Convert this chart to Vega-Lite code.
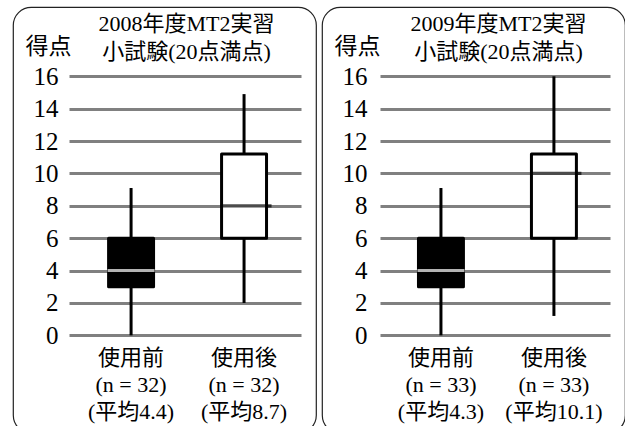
{
  "$schema": "https://vega.github.io/schema/vega-lite/v6.json",
  "padding": {"left": 12, "top": 6, "right": 0, "bottom": 0},
  "spacing": 4,
  "config": {
    "font": "Liberation Serif, Noto Sans CJK JP",
    "view": {"stroke": "#222222", "strokeWidth": 1.2, "cornerRadius": 18, "fill": "white"},
    "title": {"fontSize": 22, "fontWeight": "normal", "color": "black", "lineHeight": 28, "font": "Liberation Serif, Noto Sans CJK JP"},
    "axis": {"labelFont": "Liberation Serif, Noto Sans CJK JP", "titleFont": "Liberation Serif, Noto Sans CJK JP"}
  },
  "datasets": {
    "p2008": [
      {"group": "使用前", "label": "使用前|(n = 32)|(平均4.4)", "lower": 0, "q1": 3, "median": 4, "q3": 6, "upper": 9.1},
      {"group": "使用後", "label": "使用後|(n = 32)|(平均8.7)", "lower": 2, "q1": 6, "median": 8, "q3": 11.2, "upper": 14.9}
    ],
    "p2009": [
      {"group": "使用前", "label": "使用前|(n = 33)|(平均4.3)", "lower": 0, "q1": 3, "median": 4, "q3": 6, "upper": 9.1},
      {"group": "使用後", "label": "使用後|(n = 33)|(平均10.1)", "lower": 1.2, "q1": 6, "median": 10, "q3": 11.2, "upper": 16}
    ]
  },
  "hconcat": [
    {
      "width": 303,
      "height": 426,
      "data": {"name": "p2008"},
      "title": {"text": ["2008年度MT2実習", "小試験(20点満点)"], "frame": "group", "anchor": "middle", "dx": 22, "dy": 67, "offset": 0, "baseline": "middle"},
      "encoding": {
        "x": {"field": "label", "type": "nominal", "sort": null,
          "scale": {"paddingInner": 0.602, "paddingOuter": 0.642, "align": 0.659},
          "axis": {"orient": "bottom", "offset": -97.7, "domain": false, "ticks": false, "grid": false, "labelAngle": 0, "labelExpr": "split(datum.label, '|')", "labelFont": "Liberation Serif, Noto Sans CJK JP", "labelFontSize": 22, "labelLineHeight": 27, "labelPadding": 12, "labelBaseline": "top", "labelColor": "black", "title": null}}
      },
      "layer": [
        {"mark": {"type": "rule", "strokeWidth": 3, "color": "black"},
         "encoding": {
           "y": {"field": "lower", "type": "quantitative", "scale": {"domain": [-6.03, 20.28], "nice": false, "zero": false},
             "axis": {"title": "得点", "values": [0, 2, 4, 6, 8, 10, 12, 14, 16], "domain": false, "ticks": false, "grid": true, "gridColor": "#808080", "gridWidth": 3, "gridDash": [0, 56, 232, 100], "labelPadding": -45, "labelFont": "Liberation Serif, serif", "labelFontSize": 25, "labelColor": "black", "titleX": 35, "titleY": 39, "titleAngle": 0, "titleAlign": "center", "titleBaseline": "middle", "titleFont": "Noto Sans CJK JP", "titleFontSize": 23, "titleFontWeight": "normal", "titleColor": "black"}},
           "y2": {"field": "upper"}}},
        {"mark": {"type": "bar", "stroke": "black", "strokeWidth": 3, "strokeJoin": "round"},
         "encoding": {
           "y": {"field": "q1", "type": "quantitative", "scale": {"domain": [-6.03, 20.28], "nice": false, "zero": false},
             "axis": {"title": "得点", "values": [0, 2, 4, 6, 8, 10, 12, 14, 16], "domain": false, "ticks": false, "grid": true, "gridColor": "#808080", "gridWidth": 3, "gridDash": [0, 56, 232, 100], "labelPadding": -45, "labelFont": "Liberation Serif, serif", "labelFontSize": 25, "labelColor": "black", "titleX": 35, "titleY": 39, "titleAngle": 0, "titleAlign": "center", "titleBaseline": "middle", "titleFont": "Noto Sans CJK JP", "titleFontSize": 23, "titleFontWeight": "normal", "titleColor": "black"}},
           "y2": {"field": "q3"},
           "fill": {"field": "group", "type": "nominal", "scale": {"domain": ["使用前", "使用後"], "range": ["black", "white"]}, "legend": null}}},
        {"transform": [{"filter": "datum.group == '使用前'"}],
         "mark": {"type": "tick", "color": "white", "thickness": 3, "size": 47},
         "encoding": {"y": {"field": "median", "type": "quantitative"}}},
        {"transform": [{"filter": "datum.group == '使用後'"}],
         "mark": {"type": "tick", "color": "black", "thickness": 3.2, "size": 51, "xOffset": 2},
         "encoding": {"y": {"field": "median", "type": "quantitative"}}}
      ]
    },
    {
      "width": 303,
      "height": 426,
      "data": {"name": "p2009"},
      "title": {"text": ["2009年度MT2実習", "小試験(20点満点)"], "frame": "group", "anchor": "middle", "dx": 25, "dy": 67, "offset": 0, "baseline": "middle"},
      "encoding": {
        "x": {"field": "label", "type": "nominal", "sort": null,
          "scale": {"paddingInner": 0.602, "paddingOuter": 0.642, "align": 0.665},
          "axis": {"orient": "bottom", "offset": -97.7, "domain": false, "ticks": false, "grid": false, "labelAngle": 0, "labelExpr": "split(datum.label, '|')", "labelFont": "Liberation Serif, Noto Sans CJK JP", "labelFontSize": 22, "labelLineHeight": 27, "labelPadding": 12, "labelBaseline": "top", "labelColor": "black", "title": null}}
      },
      "layer": [
        {"mark": {"type": "rule", "strokeWidth": 3, "color": "black"},
         "encoding": {
           "y": {"field": "lower", "type": "quantitative", "scale": {"domain": [-6.03, 20.28], "nice": false, "zero": false},
             "axis": {"title": "得点", "values": [0, 2, 4, 6, 8, 10, 12, 14, 16], "domain": false, "ticks": false, "grid": true, "gridColor": "#808080", "gridWidth": 3, "gridDash": [0, 58, 230, 100], "labelPadding": -45, "labelFont": "Liberation Serif, serif", "labelFontSize": 25, "labelColor": "black", "titleX": 35, "titleY": 39, "titleAngle": 0, "titleAlign": "center", "titleBaseline": "middle", "titleFont": "Noto Sans CJK JP", "titleFontSize": 23, "titleFontWeight": "normal", "titleColor": "black"}},
           "y2": {"field": "upper"}}},
        {"mark": {"type": "bar", "stroke": "black", "strokeWidth": 3, "strokeJoin": "round"},
         "encoding": {
           "y": {"field": "q1", "type": "quantitative", "scale": {"domain": [-6.03, 20.28], "nice": false, "zero": false},
             "axis": {"title": "得点", "values": [0, 2, 4, 6, 8, 10, 12, 14, 16], "domain": false, "ticks": false, "grid": true, "gridColor": "#808080", "gridWidth": 3, "gridDash": [0, 58, 230, 100], "labelPadding": -45, "labelFont": "Liberation Serif, serif", "labelFontSize": 25, "labelColor": "black", "titleX": 35, "titleY": 39, "titleAngle": 0, "titleAlign": "center", "titleBaseline": "middle", "titleFont": "Noto Sans CJK JP", "titleFontSize": 23, "titleFontWeight": "normal", "titleColor": "black"}},
           "y2": {"field": "q3"},
           "fill": {"field": "group", "type": "nominal", "scale": {"domain": ["使用前", "使用後"], "range": ["black", "white"]}, "legend": null}}},
        {"transform": [{"filter": "datum.group == '使用前'"}],
         "mark": {"type": "tick", "color": "white", "thickness": 3, "size": 47},
         "encoding": {"y": {"field": "median", "type": "quantitative"}}},
        {"transform": [{"filter": "datum.group == '使用後'"}],
         "mark": {"type": "tick", "color": "black", "thickness": 3.2, "size": 51, "xOffset": 2},
         "encoding": {"y": {"field": "median", "type": "quantitative"}}}
      ]
    }
  ]
}
